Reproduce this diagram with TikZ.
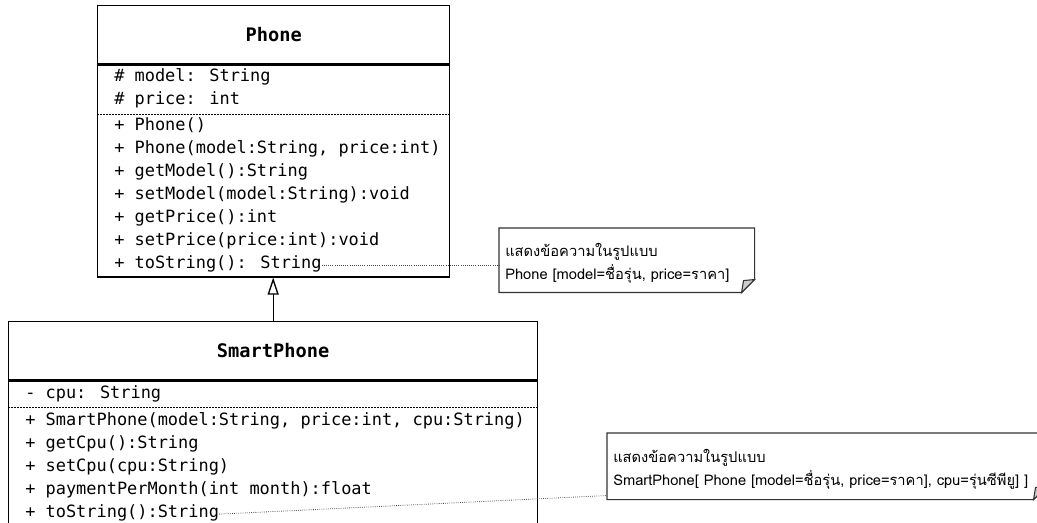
\documentclass[tikz,border=0pt]{standalone}
\usepackage{fontspec}
\newfontfamily\umlfont{DejaVu Sans Mono}
\newfontfamily\thaifont[Script=Thai]{Loma}
\usetikzlibrary{arrows.meta,positioning}
\tikzset{
	class_title/.style = {shape=rectangle, draw=black, line width=1pt, minimum height=43.5pt, anchor=north west, font=\umlfont\fontsize{14}{16}\selectfont\bfseries},
	class_body/.style = {shape=rectangle, draw=black, line width=1pt},
	member/.style = {inner sep=0pt, anchor=west, text height=11pt, text depth=5.875pt, font=\umlfont\fontsize{12.7}{15}\selectfont},
	note/.style = {inner ysep=0pt, inner xsep=4.5pt, anchor=north west, align=left, text height=11pt, text depth=16.5pt, font=\thaifont\fontsize{11}{17.25}\selectfont}
}

\begin{document}
\begin{tikzpicture}[
    x=0.75pt, y=-0.75pt,
    sep_style/.style={
        draw=black,
        line width=0.5pt,
        dash pattern=on 1.5pt off 0.75pt
        },
    link_style/.style={
        draw=black!70,
        line width=0.6pt,
        densely dotted
        },
    note_line/.style={
        draw=black!80,
        line width=0.8pt
        },
 	inherit_style/.style={
    	draw=black,
 		line width=1pt,
 		-{Triangle[open, width=8.25pt, length=12.75pt]}
 	}]

 		\useasboundingbox (0,0) rectangle (1037,523);
 		\clip (0,0) rectangle (1037,523);

 		\node[class_title, minimum width=264pt](phone_title) at (97,5) {Phone};
 		\node[class_body, minimum width=264pt, minimum height=159pt, below=0pt of phone_title.south](phone_body) {};
 		\node[member](phone_a1) at (114,78) {\# model: String};
 		\node[member, below=0pt of phone_a1.south west, anchor=north west](phone_a2) {\# price: int};
 		\coordinate (phone_sep) at (0,114);
 		\draw[sep_style] (phone_body.west |- phone_sep) -- (phone_body.east |- phone_sep);
 		\node[member](phone_m1) at (114,127) {+ Phone()};
 		\node[member, below=0pt of phone_m1.south west, anchor=north west](phone_m2) {+ Phone(model:String, price:int)};
 		\node[member, below=0pt of phone_m2.south west, anchor=north west](phone_m3) {+ getModel():String};
 		\node[member, below=0pt of phone_m3.south west, anchor=north west](phone_m4) {+ setModel(model:String):void};
 		\node[member, below=0pt of phone_m4.south west, anchor=north west](phone_m5) {+ getPrice():int};
 		\node[member, below=0pt of phone_m5.south west, anchor=north west](phone_m6) {+ setPrice(price:int):void};
 		\node[member, below=0pt of phone_m6.south west, anchor=north west](phone_m7) {+ toString(): String};

 		\node[class_title, minimum width=396.75pt](smart_title) at (8,321) {SmartPhone};
 		\node[class_body, minimum width=396.75pt, minimum height=172.5pt, below=0pt of smart_title.south](smart_body) {};
 		\node[member](smart_a1) at (25,395) {- cpu: String};
 		\coordinate (smart_sep) at (0,407);
 		\draw[sep_style] (smart_body.west |- smart_sep) -- (smart_body.east |- smart_sep);
 		\node[member](smart_m1) at (25,422) {+ SmartPhone(model:String, price:int, cpu:String)};
 		\node[member, below=0pt of smart_m1.south west, anchor=north west](smart_m2) {+ getCpu():String};
 		\node[member, below=0pt of smart_m2.south west, anchor=north west](smart_m3) {+ setCpu(cpu:String)};
 		\node[member, below=0pt of smart_m3.south west, anchor=north west](smart_m4) {+ paymentPerMonth(int month):float};
 		\node[member, below=0pt of smart_m4.south west, anchor=north west](smart_m5) {+ toString():String};

 		\node[note, text width=182.25pt, minimum height=48pt](note_phone) at (499,228) {แสดงข้อความในรูปแบบ\\Phone [model=ชื่อรุ่น, price=ราคา]};
 		\draw[note_line] (note_phone.north west) -- (note_phone.north east) -- ([yshift=9.75pt]note_phone.south east) -- ([xshift=-9.75pt]note_phone.south east) -- (note_phone.south west) -- cycle;
 		\filldraw[note_line, fill=black!20] ([yshift=9.75pt]note_phone.south east) -- ([xshift=-8.25pt, yshift=9pt]note_phone.south east) -- ([xshift=-9.75pt]note_phone.south east) -- cycle;

 		\node[note, text width=320.25pt, minimum height=49.5pt](note_smart) at (607,433) {แสดงข้อความในรูปแบบ\\SmartPhone[ Phone [model=ชื่อรุ่น, price=ราคา], cpu=รุ่นซีพียู] ]};
 		\draw[note_line] (note_smart.north west) -- (note_smart.north east) -- ([yshift=9.75pt]note_smart.south east) -- ([xshift=-9.75pt]note_smart.south east) -- (note_smart.south west) -- cycle;
 		\filldraw[note_line, fill=black!20] ([yshift=9.75pt]note_smart.south east) -- ([xshift=-8.25pt, yshift=9pt]note_smart.south east) -- ([xshift=-9.75pt]note_smart.south east) -- cycle;

 		\draw[inherit_style] (smart_title.north) -- (smart_title.north |- phone_body.south);
 		\draw[link_style] (phone_m7.east) -- (phone_m7.east -| note_phone.west);
 		\draw[link_style] (smart_m5.east) -- ([yshift=3pt]note_smart.south west);
 	\end{tikzpicture}
\end{document}
